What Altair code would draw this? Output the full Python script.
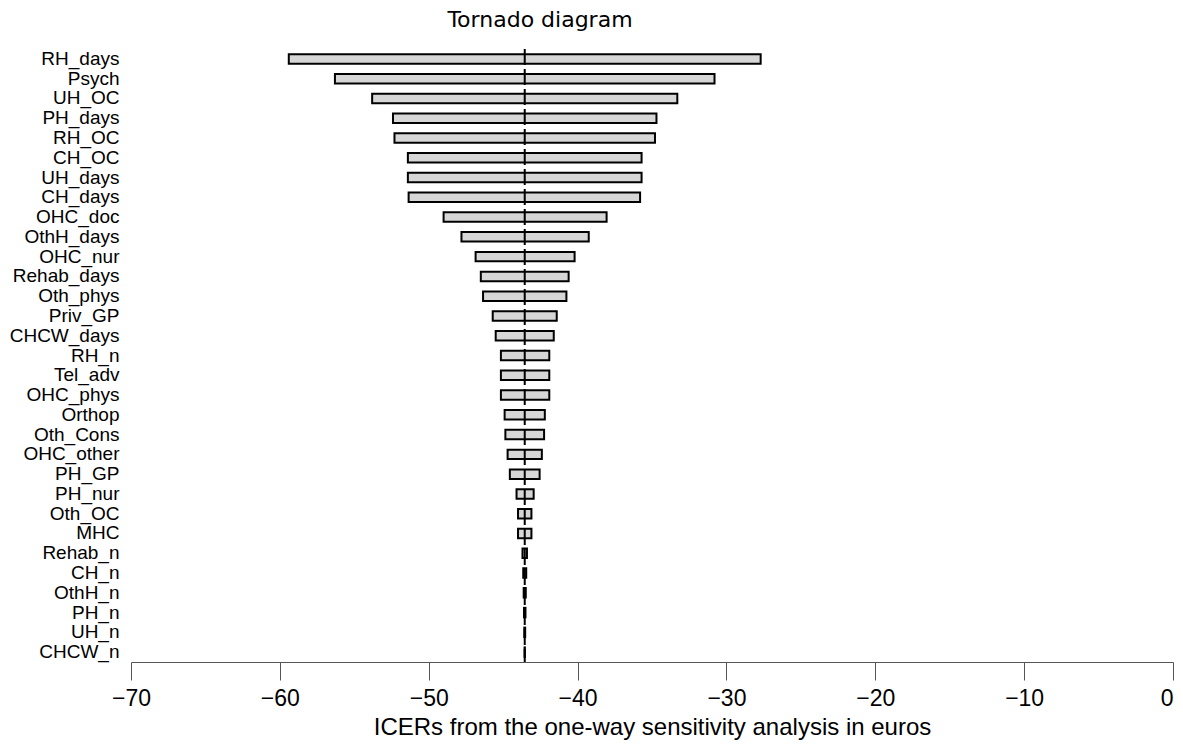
import altair as alt
import pandas as pd

categories = ["RH_days", "Psych", "UH_OC", "PH_days", "RH_OC", "CH_OC", "UH_days",
              "CH_days", "OHC_doc", "OthH_days", "OHC_nur", "Rehab_days", "Oth_phys",
              "Priv_GP", "CHCW_days", "RH_n", "Tel_adv", "OHC_phys", "Orthop",
              "Oth_Cons", "OHC_other", "PH_GP", "PH_nur", "Oth_OC", "MHC", "Rehab_n",
              "CH_n", "OthH_n", "PH_n", "UH_n", "CHCW_n"]
low = [-59.4, -56.3, -53.8, -52.4, -52.3, -51.4, -51.4, -51.35, -49.0, -47.8, -46.85,
       -46.5, -46.35, -45.7, -45.5, -45.15, -45.15, -45.15, -44.9, -44.85, -44.7,
       -44.55, -44.1, -44.0, -44.0, -43.7, -43.65, -43.62, -43.6, -43.58, -43.56]
high = [-27.7, -30.8, -33.3, -34.7, -34.8, -35.7, -35.7, -35.8, -38.05, -39.25, -40.2,
        -40.6, -40.75, -41.4, -41.6, -41.9, -41.9, -41.9, -42.2, -42.25, -42.4,
        -42.55, -42.95, -43.1, -43.1, -43.4, -43.45, -43.48, -43.5, -43.52, -43.54]
base_icer = -43.55
x_ticks = [-70, -60, -50, -40, -30, -20, -10, 0]

df = pd.DataFrame({"param": categories, "low": low, "high": high})
base_df = pd.DataFrame({"base": [base_icer]})

x_scale = alt.Scale(domain=[-70, 0], nice=False, zero=False)
y_scale = alt.Scale(domain=categories, paddingInner=0.52, paddingOuter=0.26)

bars = alt.Chart(df).mark_bar(
    fill="#d6d6d6", stroke="black", strokeWidth=2
).encode(
    x=alt.X("low:Q", scale=x_scale,
            axis=alt.Axis(values=x_ticks, title="ICERs from the one-way sensitivity analysis in euros",
                          grid=False, tickSize=18, domainColor="#555555", tickColor="#555555",
                          labelFont="Liberation Sans", labelFontSize=23, labelColor="black",
                          labelPadding=7, labelFlush=False,
                          labelAlign=alt.ExprRef(expr="datum.value === 0 ? 'right' : 'center'"),
                          titleFont="Liberation Sans", titleFontSize=24, titleFontWeight="normal",
                          titleColor="black", titlePadding=5)),
    x2="high:Q",
    y=alt.Y("param:N", scale=y_scale, sort=categories,
            axis=alt.Axis(title=None, ticks=False, domain=False, grid=False,
                          labelFont="Liberation Sans", labelFontSize=19, labelColor="black",
                          labelPadding=12)),
)

rule = alt.Chart(base_df).mark_rule(
    color="black", strokeWidth=2, strokeDash=[16, 4]
).encode(x=alt.X("base:Q", scale=x_scale))

chart = alt.layer(bars, rule).properties(
    width=1042,
    height=613,
    padding={"left": 123, "top": 41, "right": 2, "bottom": 80},
    autosize=alt.AutoSizeParams(type="none"),
    title=alt.TitleParams("Tornado diagram", font="DejaVu Sans", fontSize=22,
                          fontWeight="normal", color="black", anchor="middle",
                          dx=-112, offset=16),
).configure_view(stroke=None)

chart.save("out.html", embed_options={"renderer": "svg", "actions": False})
